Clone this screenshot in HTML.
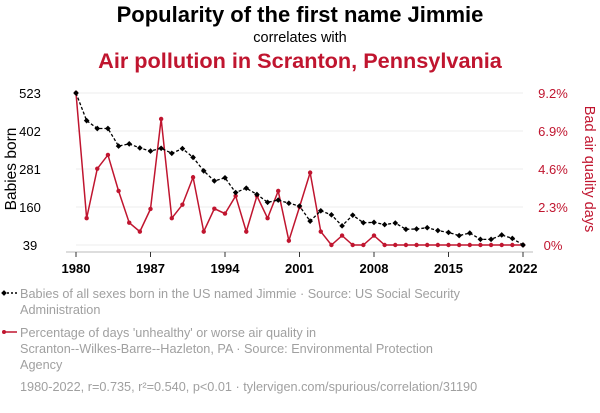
<!DOCTYPE html>
<html><head><meta charset="utf-8"><style>
body{margin:0;background:#fff;width:600px;height:408px;overflow:hidden;font-family:"Liberation Sans",Arial,sans-serif}
svg text{font-family:"Liberation Sans",Arial,sans-serif}
</style></head><body>
<svg id="c" width="600" height="408">
<text x="300" y="22" text-anchor="middle" font-size="22" font-weight="bold" fill="#000">Popularity of the first name Jimmie</text>
<text x="300" y="42" text-anchor="middle" font-size="14.5" fill="#000">correlates with</text>
<text x="300" y="68" text-anchor="middle" font-size="21.7" font-weight="bold" fill="#c0152f">Air pollution in Scranton, Pennsylvania</text>
<g id="grid"></g><g id="axes"></g><g id="marks"></g>
<text transform="translate(16,169) rotate(-90)" text-anchor="middle" font-size="15.5" fill="#000">Babies born</text>
<text transform="translate(585,169) rotate(90)" text-anchor="middle" font-size="14.5" fill="#c0152f">Bad air quality days</text>
<g>
<line x1="3" y1="293" x2="17" y2="293" stroke="#000" stroke-width="1.5" stroke-dasharray="2,2"/>
<rect x="2" y="291" width="4" height="4" transform="rotate(45 4 293)" fill="#000"/>
<text font-size="12.7" fill="#a0a0a0"><tspan x="20" y="298">Babies of all sexes born in the US named Jimmie · Source: US Social Security</tspan><tspan x="20" y="314">Administration</tspan></text></g>
<g>
<line x1="3" y1="332" x2="17" y2="332" stroke="#c0152f" stroke-width="1.5"/>
<circle cx="4" cy="332" r="2" fill="#c0152f"/>
<text font-size="12.7" fill="#a0a0a0"><tspan x="20" y="337">Percentage of days 'unhealthy' or worse air quality in</tspan><tspan x="20" y="353">Scranton--Wilkes-Barre--Hazleton, PA · Source: Environmental Protection</tspan><tspan x="20" y="369">Agency</tspan></text></g>
<text x="20" y="391" font-size="12.7" fill="#a0a0a0">1980-2022, r=0.735, r²=0.540, p&lt;0.01 · tylervigen.com/spurious/correlation/31190</text>
</svg>
<script>
const years=[];for(let y=1980;y<=2022;y++)years.push(y);
const babies=[523,435,410,410,354,361,348,338,347,331,346,318,275,243,253,206,220,200,175,182,172,163,115,148,135,100,134,110,111,104,109,89,90,94,85,79,69,77,57,57,71,60,39];
const air=[9.2,1.62,4.62,5.45,3.27,1.35,0.81,2.18,7.63,1.62,2.44,4.1,0.81,2.2,1.9,2.97,0.81,2.97,1.62,3.27,0.26,2.3,4.38,0.81,0,0.57,0,0,0.57,0,0,0,0,0,0,0,0,0,0,0,0,0,0];
const leftTicks=[39,160,281,402,523];
const rightTicks=[0,2.3,4.6,6.9,9.2];
const xTicks=[1980,1987,1994,2001,2008,2015,2022];
const X0=76,X1=523,Y0=245,Y1=93;
const xs=v=>X0+(v-1980)/(2022-1980)*(X1-X0);
const yl=v=>Y0-(v-39)/(523-39)*(Y0-Y1);
const yr=v=>Y0-v/9.2*(Y0-Y1);
const NS='http://www.w3.org/2000/svg';
function mk(t,a,p){const e=document.createElementNS(NS,t);for(const k in a)e.setAttribute(k,a[k]);p.appendChild(e);return e;}
const grid=document.getElementById('grid'),axes=document.getElementById('axes'),marks=document.getElementById('marks');
leftTicks.forEach((v,i)=>{const y=yl(v);
const g=mk('line',{x1:X0,x2:X1,y1:y,y2:y,stroke:'#eee','stroke-width':1},grid);


const t=mk('text',{x:30,y:y+5,'text-anchor':'middle','font-size':13,fill:'#000'},axes);t.textContent=v;


const r=mk('text',{x:553,y:yr(rightTicks[i])+5,'text-anchor':'middle','font-size':13,fill:'#c0152f'},axes);r.textContent=rightTicks[i]+'%';

});
const ax=mk('line',{x1:X0-10,x2:X1+10,y1:252,y2:252,stroke:'#bbb','stroke-width':1},axes);


xTicks.forEach(v=>{const x=xs(v);
const l=mk('line',{x1:x,x2:x,y1:252,y2:257,stroke:'#333','stroke-width':1},axes);


const t=mk('text',{x:x,y:273,'text-anchor':'middle','font-size':13,'font-weight':'bold',fill:'#000'},axes);t.textContent=v;

});
const rp=mk('polyline',{points:years.map((y,i)=>xs(y)+','+yr(air[i])).join(' '),fill:'none',stroke:'#c0152f','stroke-width':1.5},marks);


years.forEach((y,i)=>{const c=mk('circle',{cx:xs(y),cy:yr(air[i]),r:2.2,fill:'#c0152f'},marks);

});
const bp=mk('polyline',{points:years.map((y,i)=>xs(y)+','+yl(babies[i])).join(' '),fill:'none',stroke:'#000','stroke-width':1.3,'stroke-dasharray':'3,2'},marks);


years.forEach((y,i)=>{const x=xs(y),yy=yl(babies[i]);const d=mk('rect',{x:x-2,y:yy-2,width:4,height:4,fill:'#000',transform:`rotate(45 ${x} ${yy})`},marks);

});
</script>
</body></html>
